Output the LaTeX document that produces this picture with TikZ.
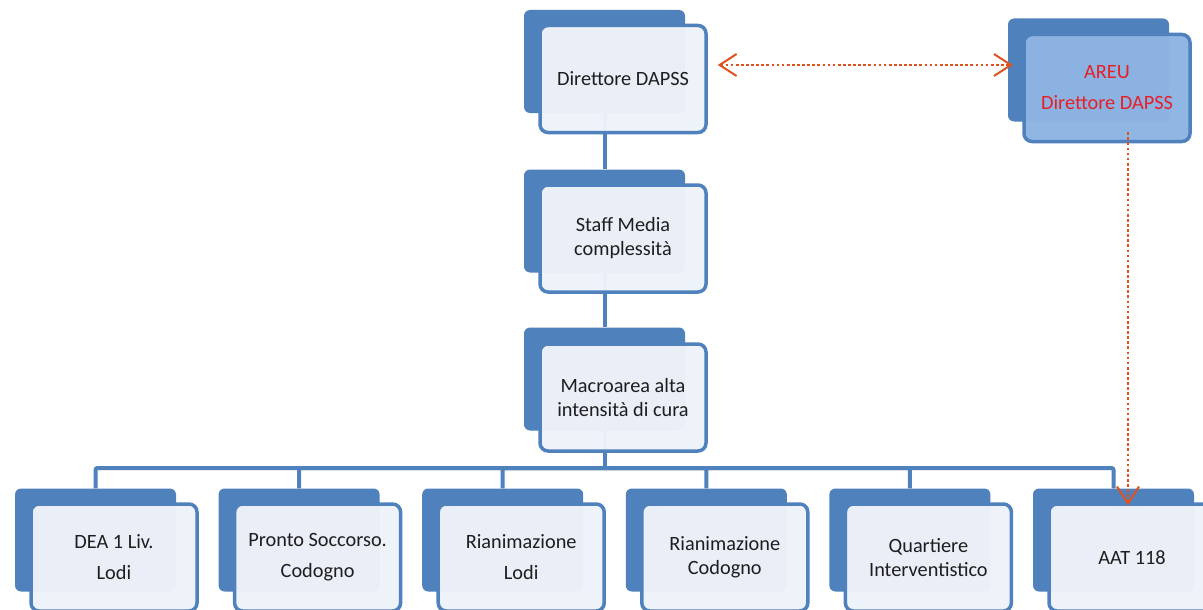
\documentclass[tikz,border=0pt]{standalone}
\usepackage{fontspec}
\setmainfont{Carlito}
\usetikzlibrary{arrows.meta,calc}
\definecolor{accblue}{RGB}{79,129,189}
\definecolor{frontfill}{RGB}{238,242,249}
\definecolor{areufill}{RGB}{141,180,227}
\definecolor{dotred}{RGB}{222,82,30}
\definecolor{areutext}{RGB}{232,30,40}
\definecolor{txt}{RGB}{30,30,30}
\pgfdeclarelayer{bg}
\pgfsetlayers{bg,main}
\begin{document}
\begin{tikzpicture}[x=1pt,y=-1pt,
  backbox/.style={fill=accblue, rounded corners=6pt, minimum width=161pt, minimum height=103pt, inner sep=0pt},
  frontbox/.style={draw=accblue, line width=3.5pt, fill=frontfill, fill opacity=0.97, text opacity=1, rounded corners=8pt, minimum width=166pt, minimum height=107pt, inner sep=0pt, align=center, text=txt, font=\fontsize{20.3}{24}\selectfont},
  widegap/.style={font=\fontsize{20.3}{31}\selectfont},
  areubox/.style={frontbox, fill=areufill, text=areutext},
  conn/.style={draw=accblue, line width=4pt, rounded corners=2pt},
  dotarrow/.style={draw=dotred, line width=2.7pt, dash pattern=on 2.7pt off 2.4pt,
    arrows={Straight Barb[length=17pt,width=22pt,line width=2pt]-Straight Barb[length=17pt,width=22pt,line width=2pt]}},
  dotarrowend/.style={draw=dotred, line width=2.7pt, dash pattern=on 2.7pt off 2.4pt,
    arrows={-Straight Barb[length=17pt,width=22pt,line width=2pt]}}]
\useasboundingbox (0,0) rectangle (1203,610);

% top column
\node[backbox] (dirB) at (604.5,61.5) {};
\node[frontbox] (dirF) at ($(dirB)+(18.5,17.5)$) {Direttore DAPSS};
\node[backbox] (staffB) at (604.5,221) {};
\node[frontbox] (staffF) at ($(staffB)+(18.5,17.5)$) {Staff Media\\complessità};
\node[backbox] (macroB) at (604.5,379) {};
\node[frontbox] (macroF) at ($(macroB)+(18.5,18.5)$) {Macroarea alta\\intensità di cura};

% AREU
\node[backbox] (areuB) at (1088.5,70) {};
\node[areubox, widegap] (areuF) at ($(areuB)+(18.5,18)$) {AREU\\Direttore DAPSS};

% bottom row
\node[backbox] (n1B) at (95.5,540) {};
\node[frontbox, widegap] (n1F) at ($(n1B)+(18.5,17.5)$) {DEA 1 Liv.\\Lodi};
\node[backbox] (n2B) at (299.1,540) {};
\node[frontbox, widegap] (n2F) at ($(n2B)+(18.5,17.5)$) {Pronto Soccorso.\\Codogno};
\node[backbox] (n3B) at (502.7,540) {};
\node[frontbox, widegap] (n3F) at ($(n3B)+(18.5,17.5)$) {Rianimazione\\Lodi};
\node[backbox] (n4B) at (706.3,540) {};
\node[frontbox] (n4F) at ($(n4B)+(18.5,17.5)$) {Rianimazione\\Codogno};
\node[backbox] (n5B) at (909.9,540) {};
\node[frontbox] (n5F) at ($(n5B)+(18.5,17.5)$) {Quartiere\\Interventistico};
\node[backbox] (n6B) at (1113.5,540) {};
\node[frontbox] (n6F) at ($(n6B)+(18.5,17.5)$) {AAT 118};

\coordinate (bus) at (604.5,468);

\begin{pgfonlayer}{bg}
\fill[white] (0,0) rectangle (1203,610);
\draw[conn] (dirB.south) -- (staffB.north);
\draw[conn] (staffB.south) -- (macroB.north);
\draw[conn] (macroB.south) -- (bus);
\foreach \n in {n1B,n2B,n3B,n4B,n5B,n6B}
  \draw[conn] (bus) -| (\n.north);
\end{pgfonlayer}

% dotted relations
\draw[dotarrow] ([xshift=10pt,yshift=14pt]dirF.east) -- ([xshift=5pt,yshift=5pt]areuB.west);
\draw[dotarrowend] ([xshift=21pt,yshift=11pt]areuF.south) -- ([xshift=14.5pt,yshift=-17pt]n6B.north);
\end{tikzpicture}
\end{document}
